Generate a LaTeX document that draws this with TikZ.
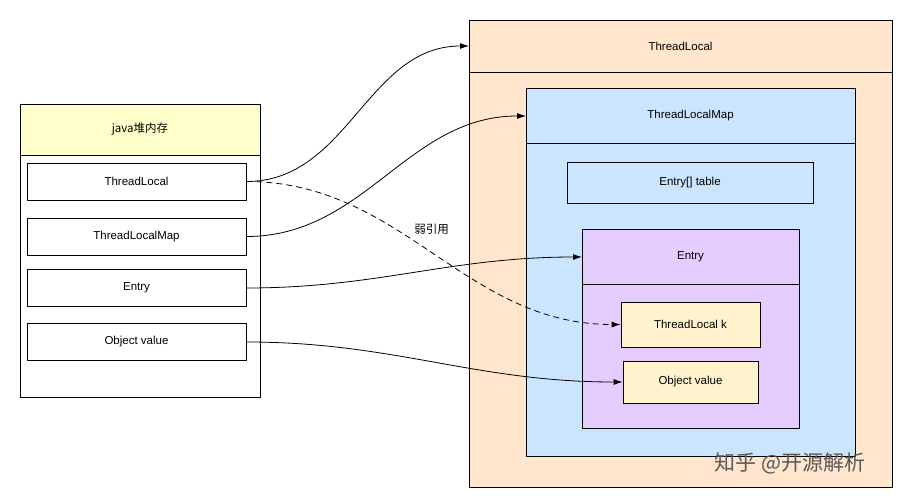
\documentclass[tikz,border=0pt]{standalone}
\usepackage{fontspec}
\setmainfont{Liberation Sans}
\newfontfamily\cjk{Noto Sans CJK SC}
\usetikzlibrary{arrows.meta}
\definecolor{peach}{HTML}{FFE6CC}
\definecolor{lblue}{HTML}{CCE5FF}
\definecolor{lpurple}{HTML}{E5CCFF}
\definecolor{lyellow}{HTML}{FFFFCC}
\definecolor{kyellow}{HTML}{FFF2CC}
\tikzset{
    box/.style={draw=black, thick, rectangle, inner sep=0pt},
    item/.style={box, fill=white, minimum width=219pt, minimum height=37pt},
    link/.style={-{Latex[length=9pt,width=6pt]}, thick},
    every node/.style={font=\fontsize{11.5}{14}\selectfont}
}
\begin{document}
\begin{tikzpicture}[x=1pt,y=-1pt]
  \useasboundingbox (0,0) rectangle (909,500);
  % left side
  \node [box, fill=white, minimum width=240pt, minimum height=293pt] (heap) at (140,250.5) {};
  \node [box, fill=lyellow, minimum width=240pt, minimum height=51pt] (heaphead) at (140,129.5) {\cjk java堆内存};
  \node [item] (tl) at (136.5,181.5) {ThreadLocal};
  \node [item] (tlm) at (136.5,236.5) {ThreadLocalMap};
  \node [item] (ent) at (136.5,288) {Entry};
  \node [item] (obj) at (136.5,342) {Object value};
  % right side
  \node [box, fill=peach, minimum width=423pt, minimum height=467pt] (tlbox) at (680.5,253.5) {};
  \draw [thick] (469,72) -- (892,72);
  \node (tltitle) at (680.5,46) {ThreadLocal};
  \node [box, fill=lblue, minimum width=329pt, minimum height=368pt] (mapbox) at (690.5,272) {};
  \draw [thick] (526,143) -- (855,143);
  \node (maptitle) at (690.5,116) {ThreadLocalMap};
  \node [box, fill=lblue, minimum width=246pt, minimum height=41pt] (table) at (690,182.5) {Entry[] table};
  \node [box, fill=lpurple, minimum width=217pt, minimum height=199pt] (entbox) at (690.5,328.5) {};
  \draw [thick] (582,284) -- (799,284);
  \node (enttitle) at (690.5,257) {Entry};
  \node [box, fill=kyellow, minimum width=139pt, minimum height=45pt] (key) at (690.5,324.5) {ThreadLocal k};
  \node [box, fill=kyellow, minimum width=135pt, minimum height=42pt] (val) at (690.5,382) {Object value};
  \coordinate (tlin) at (469,46);
  \coordinate (mapin) at (526,116);
  \coordinate (entin) at (582,257);
  % connectors
  \draw [link] (tl.east) to[out=0, in=180] (tlin);
  \draw [link] (tlm.east) to[out=0, in=180] (mapin);
  \draw [link] (ent.east) to[out=0, in=180] (entin);
  \draw [link] (obj.east) to[out=0, in=180] (val.west);
  \draw [link, dashed, dash pattern=on 6pt off 4pt] (tl.east) to[out=0, in=180]
    node [pos=0.43, above right, font=\fontsize{11.5}{14}\selectfont\cjk] (weak) {弱引用} (key.west);
  \node [text=black!65, font=\fontsize{21}{25}\selectfont\cjk] (mark) at (790,463) {知乎 @开源解析};
\end{tikzpicture}
\end{document}
